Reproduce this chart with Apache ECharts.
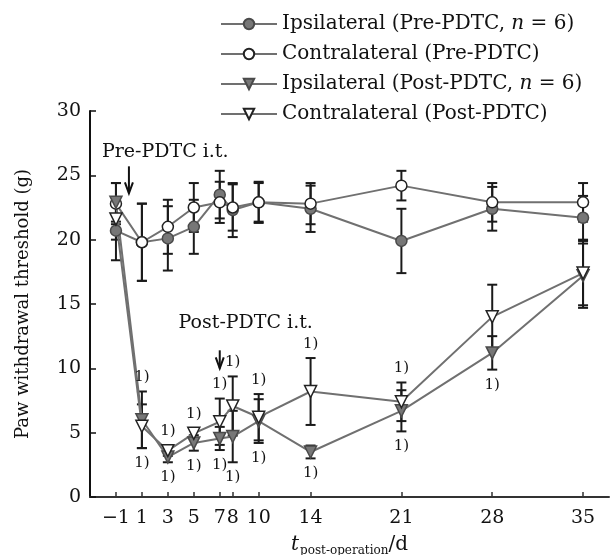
<!DOCTYPE html>
<html>
<head>
<meta charset="utf-8">
<script src="https://cdn.jsdelivr.net/npm/echarts@6/dist/echarts.min.js"></script>
<style>
	html, body { margin: 0; padding: 0; background: #fff; }
	#chart { width: 615px; height: 555px; }
</style>
</head>
<body>
<div id="chart"></div>
<script>
// days after operation
const days = [-1, 1, 3, 5, 7, 8, 10, 14, 21, 28, 35]
const dayTicks = [-1, 1, 3, 5, 7, 8, 10, 14, 21, 28, 35]

const seriesNames = [
	'Ipsilateral (Pre-PDTC, n = 6)',
	'Contralateral (Pre-PDTC)',
	'Ipsilateral (Post-PDTC, n = 6)',
	'Contralateral (Post-PDTC)',
]

// mean and SD
const ipsiPre = [20.7, 19.8, 20.1, 21.0, 23.5, 22.3, 22.9, 22.4, 19.9, 22.4, 21.7]
const ipsiPreSd = [2.3, 3.0, 2.5, 2.1, 1.85, 2.1, 1.6, 1.8, 2.5, 1.7, 1.7]
const contraPre = [22.8, 19.8, 21.0, 22.5, 22.9, 22.5, 22.9, 22.8, 24.2, 22.9, 22.9]
const contraPreSd = [1.6, 3.0, 2.1, 1.9, 1.6, 1.8, 1.5, 1.6, 1.15, 1.5, 1.5]
const ipsiPost = [22.9, 6.0, 3.1, 4.2, 4.55, 4.7, 5.9, 3.5, 6.7, 11.2, 17.2]
const ipsiPostSd = [1.5, 2.2, 0.4, 0.6, 0.9, 2.0, 1.7, 0.5, 1.6, 1.3, 2.5]
const contraPost = [21.6, 5.5, 3.6, 4.95, 5.85, 7.07, 6.2, 8.2, 7.4, 14.0, 17.4]
const contraPostSd = [1.6, 1.7, 0.4, 0.4, 1.8, 2.3, 1.8, 2.6, 1.5, 2.5, 2.5]

// days marked "1)" above / below the post-PDTC curves
const sigAboveDays = [1, 3, 5, 7, 8, 10, 14, 21]
const sigBelowDays = [1, 3, 5, 7, 8, 10, 14, 21, 28]

// injection arrows: [arrow day, arrow top, arrow tip, text day, text value]
const injections = [
	[0, 25.7, 23.6, 2.8, 26.8],
	[7, 11.4, 10.0, 9.0, 13.5],
]
const injectionLabels = ['Pre-PDTC i.t.', 'Post-PDTC i.t.']

const FONT = 'DejaVu Serif'

const chart = echarts.init(document.getElementById('chart'))

const pairs = (values) => days.map((d, i) => [d, values[i]])
const bars = (values, sd) => days.map((d, i) => [d, values[i] - sd[i], values[i] + sd[i]])

// the "1)" marks sit a few pixels past the error bar ends
const sigData = () => {
	const out = []
	sigAboveDays.forEach((d) => {
		const i = days.indexOf(d)
		out.push([d, Math.max(ipsiPost[i] + ipsiPostSd[i], contraPost[i] + contraPostSd[i]), -14])
	})
	sigBelowDays.forEach((d) => {
		const i = days.indexOf(d)
		out.push([d, Math.min(ipsiPost[i] - ipsiPostSd[i], contraPost[i] - contraPostSd[i]), 15])
	})
	return out
}

const errorSeries = (data) => {
	return {
		type: 'custom',
		silent: true,
		z: 1,
		renderItem: (params, api) => {
			const x = api.value(0)
			const lo = api.coord([x, api.value(1)])
			const hi = api.coord([x, api.value(2)])
			const w = 5
			const style = { stroke: '#1a1a1a', lineWidth: 2 }
			return {
				type: 'group',
				children: [
					{ type: 'line', shape: { x1: lo[0], y1: lo[1], x2: hi[0], y2: hi[1] }, style },
					{ type: 'line', shape: { x1: lo[0] - w, y1: lo[1], x2: lo[0] + w, y2: lo[1] }, style },
					{ type: 'line', shape: { x1: hi[0] - w, y1: hi[1], x2: hi[0] + w, y2: hi[1] }, style },
				],
			}
		},
		data: data,
	}
}

const lineSeries = (name, values, symbol, filled) => {
	return {
		name: name,
		type: 'line',
		z: 3,
		data: pairs(values),
		symbol: symbol,
		symbolRotate: symbol === 'triangle' ? 180 : 0,
		symbolSize: symbol === 'triangle' ? 12 : 11,
		lineStyle: { color: '#707070', width: 2 },
		itemStyle: {
			color: filled ? '#777' : '#fff',
			borderColor: filled ? '#4a4a4a' : '#222',
			borderWidth: 1.5,
		},
		emphasis: { disabled: true },
	}
}

const option = {
	animation: false,
	backgroundColor: '#fff',
	grid: { left: 90, right: 6, top: 111, bottom: 58, outerBoundsMode: 'none' },
	legend: {
		orient: 'vertical',
		left: 215,
		top: 9,
		itemWidth: 56,
		itemHeight: 13,
		itemGap: 10,
		data: seriesNames,
		formatter: (name) => name.replace('n = 6', '{i|n} = 6'),
		textStyle: {
			fontFamily: FONT,
			fontSize: 20,
			color: '#111',
			rich: {
				i: { fontFamily: FONT, fontSize: 20, fontStyle: 'italic', color: '#111' },
			},
		},
	},
	xAxis: {
		type: 'value',
		min: -3,
		max: 37,
		name: '{t|t}{s|post-operation}{d|/d}',
		nameLocation: 'middle',
		nameGap: 36,
		nameTextStyle: {
			rich: {
				t: { fontFamily: FONT, fontSize: 20, fontStyle: 'italic', color: '#111' },
				s: { fontFamily: FONT, fontSize: 12, color: '#111', padding: [12, 0, 0, 1] },
				d: { fontFamily: FONT, fontSize: 20, color: '#111' },
			},
		},
		splitLine: { show: false },
		axisLine: { lineStyle: { color: '#333', width: 2 } },
		axisTick: {
			inside: true,
			length: 5,
			customValues: dayTicks,
			lineStyle: { color: '#333', width: 1.5 },
		},
		axisLabel: {
			customValues: dayTicks,
			margin: 12,
			fontFamily: FONT,
			fontSize: 19,
			color: '#111',
			formatter: (v) => (v < 0 ? '\u2212' + Math.abs(v) : String(v)),
		},
	},
	yAxis: {
		type: 'value',
		min: 0,
		max: 30,
		interval: 5,
		name: 'Paw withdrawal threshold (g)',
		nameLocation: 'middle',
		nameGap: 58,
		nameTextStyle: { fontFamily: FONT, fontSize: 18, color: '#111' },
		splitLine: { show: false },
		axisLine: { show: true, onZero: false, lineStyle: { color: '#111', width: 2 } },
		axisTick: { show: true, inside: true, length: 6, lineStyle: { color: '#111', width: 1.5 } },
		axisLabel: { margin: 9, fontFamily: FONT, fontSize: 19, color: '#111' },
	},
	series: [
		errorSeries(bars(ipsiPre, ipsiPreSd)),
		errorSeries(bars(contraPre, contraPreSd)),
		errorSeries(bars(ipsiPost, ipsiPostSd)),
		errorSeries(bars(contraPost, contraPostSd)),
		lineSeries(seriesNames[0], ipsiPre, 'circle', true),
		lineSeries(seriesNames[1], contraPre, 'circle', false),
		lineSeries(seriesNames[2], ipsiPost, 'triangle', true),
		lineSeries(seriesNames[3], contraPost, 'triangle', false),
		{
			// "1)" marks
			type: 'custom',
			silent: true,
			z: 4,
			renderItem: (params, api) => {
				const p = api.coord([api.value(0), api.value(1)])
				return {
					type: 'text',
					x: p[0],
					y: p[1] + api.value(2),
					style: {
						text: '1)',
						fontFamily: FONT,
						fontSize: 15,
						fill: '#111',
						align: 'center',
						verticalAlign: 'middle',
					},
				}
			},
			data: sigData(),
		},
		{
			// injection arrows and labels
			type: 'custom',
			silent: true,
			z: 4,
			renderItem: (params, api) => {
				const top = api.coord([api.value(0), api.value(1)])
				const tip = api.coord([api.value(0), api.value(2)])
				const txt = api.coord([api.value(3), api.value(4)])
				const style = { stroke: '#111', lineWidth: 2, fill: null }
				return {
					type: 'group',
					children: [
						{ type: 'line', shape: { x1: top[0], y1: top[1], x2: tip[0], y2: tip[1] }, style },
						{
							type: 'polyline',
							shape: { points: [[tip[0] - 4, tip[1] - 11], [tip[0], tip[1]], [tip[0] + 4, tip[1] - 11]] },
							style,
						},
						{
							type: 'text',
							x: txt[0],
							y: txt[1],
							style: {
								text: injectionLabels[params.dataIndex],
								fontFamily: FONT,
								fontSize: 19,
								fill: '#111',
								align: 'center',
								verticalAlign: 'middle',
							},
						},
					],
				}
			},
			data: injections,
		},
	],
}

chart.setOption(option)
</script>
</body>
</html>
